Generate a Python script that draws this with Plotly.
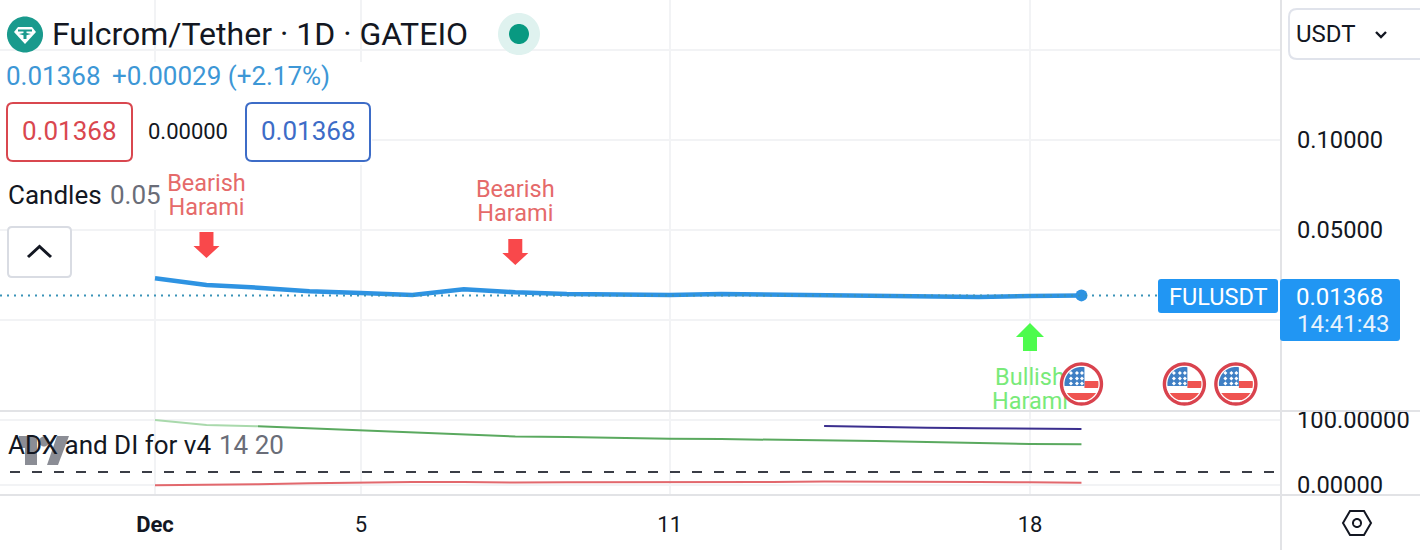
import math
import plotly.graph_objects as go

# ---------- data ----------
days = [1, 2, 3, 4, 5, 6, 7, 8, 9, 10, 11, 12, 13, 14, 15, 16, 17, 18, 19]
close = [0.02317, 0.01944, 0.01794, 0.01594, 0.01500, 0.01389, 0.01706, 0.01539, 0.01444, 0.01406,
         0.01389, 0.01444, 0.01406, 0.01389, 0.01372, 0.01350, 0.01278, 0.01333, 0.01368]
adx_green = [100.0, 92.3, 90.3, 87.2, 83.5, 80.5, 77.4, 74.5, 73.8, 72.3,
             71.2, 70.6, 69.8, 69.2, 67.7, 66.2, 64.6, 63.1, 62.6]
di_red = [-0.5, 0.0, 1.1, 2.6, 3.8, 4.6, 4.6, 3.8, 4.2, 4.2,
          4.2, 4.2, 4.6, 5.4, 5.4, 4.6, 4.6, 4.2, 3.5]
purple_days = [14, 15, 16, 17, 18, 19]
purple = [90.8, 89.2, 88.2, 87.2, 86.5, 86.2]
level_line = [20]
x_tick_vals = [1, 5, 11, 18]
x_tick_text = ["<b>Dec</b>", "5", "11", "18"]
price_ticks = [0, 0.05, 0.10, 0.15]
price_tick_text = ["", "0.05000", "0.10000", ""]
adx_ticks = [0, 100]
adx_tick_text = ["0.00000", "100.00000"]
bearish_days = [2, 8]
bullish_days = [18]
event_days = [19, 21, 22]
pattern_lines = ["Harami"]
last_price = "0.01368"

# ---------- geometry helpers (page pixels) ----------
W, H = 1420, 550
FONT = "Roboto"
INK = "#131722"
GRID = "#f2f3f5"
EDGE = "#e2e3e6"
BLUE = "#2e93e2"


def num(v):
    return f"{v:.2f}"


def poly(points, close_it=True):
    d = "M" + " L".join(f"{num(x)},{num(-y)}" for x, y in points)
    return d + (" Z" if close_it else "")


def page(path, fill=None, line=None, width=0, layer="above"):
    return dict(type="path", layer=layer, path=path,
                xref="paper", xsizemode="pixel", xanchor=0,
                yref="paper", ysizemode="pixel", yanchor=1,
                fillcolor=fill or "rgba(0,0,0,0)",
                line=dict(color=line or "rgba(0,0,0,0)", width=width))


def at_day(day, py, path, fill=None, line=None, width=0):
    return dict(type="path", layer="above", path=path,
                xref="x", xsizemode="pixel", xanchor=day,
                yref="paper", ysizemode="pixel", yanchor=1 - py / H,
                fillcolor=fill or "rgba(0,0,0,0)",
                line=dict(color=line or "rgba(0,0,0,0)", width=width))


def rrect(x0, y0, x1, y1, r):
    y0, y1 = -y0, -y1
    return (f"M{x0+r},{y0} L{x1-r},{y0} Q{x1},{y0} {x1},{y0-r} L{x1},{y1+r} Q{x1},{y1} {x1-r},{y1} "
            f"L{x0+r},{y1} Q{x0},{y1} {x0},{y1+r} L{x0},{y0-r} Q{x0},{y0} {x0+r},{y0} Z")


def circle(cx, cy, r):
    return poly([(cx + r * math.cos(2 * math.pi * i / 60), cy + r * math.sin(2 * math.pi * i / 60))
                 for i in range(60)])


def disc_clip(r, x0, y0, x1, y1):
    pts = []
    for i in range(72):
        a = 2 * math.pi * i / 72
        pts.append((min(max(r * math.cos(a), x0), x1), min(max(r * math.sin(a), y0), y1)))
    return poly(pts)


def diamond(cx, cy, r):
    return poly([(cx, cy - r), (cx + r, cy), (cx, cy + r), (cx - r, cy)])


def text(x, y, s, size, color=INK, anchor="left", yanchor="middle"):
    return dict(xref="paper", yref="paper", x=x / W, y=1 - y / H, text=s, showarrow=False,
                xanchor=anchor, yanchor=yanchor, borderpad=0, borderwidth=0,
                font=dict(family=FONT, size=size, color=color))


def price_at(py):
    return (320 - py) / 1800


# ---------- traces ----------
fig = go.Figure()
line_style = dict(mode="lines", hoverinfo="skip", showlegend=False)
fig.add_trace(go.Scatter(x=days, y=close, xaxis="x2", yaxis="y",
                         line=dict(color=BLUE, width=4.5), **line_style))
fig.add_trace(go.Scatter(x=days[-1:], y=close[-1:], xaxis="x2", yaxis="y", mode="markers",
                         marker=dict(color=BLUE, size=12), hoverinfo="skip", showlegend=False))
fig.add_trace(go.Scatter(x=days[:3], y=adx_green[:3], xaxis="x", yaxis="y2",
                         line=dict(color="#a9d9ac", width=2), **line_style))
fig.add_trace(go.Scatter(x=days[2:], y=adx_green[2:], xaxis="x", yaxis="y2",
                         line=dict(color="#5aa95f", width=2), **line_style))
fig.add_trace(go.Scatter(x=days, y=di_red, xaxis="x", yaxis="y2",
                         line=dict(color="#e2686d", width=2), **line_style))
fig.add_trace(go.Scatter(x=purple_days, y=purple, xaxis="x", yaxis="y2",
                         line=dict(color="#3b2f8e", width=2), **line_style))

# pattern captions are scatter text so that the event flags sit above them
label_style = dict(mode="text", hoverinfo="skip", showlegend=False, cliponaxis=False,
                   xaxis="x2", yaxis="y")
bear_font = dict(family=FONT, size=23.5, color="#e56a6a")
bull_font = dict(family=FONT, size=23.5, color="#79ea79")
fig.add_trace(go.Scatter(x=[bearish_days[0]], y=[price_at(185)], text=["Bearish"], textfont=bear_font, **label_style))
fig.add_trace(go.Scatter(x=[bearish_days[0]], y=[price_at(209)], text=pattern_lines, textfont=bear_font, **label_style))
fig.add_trace(go.Scatter(x=[bearish_days[1]], y=[price_at(191)], text=["Bearish"], textfont=bear_font, **label_style))
fig.add_trace(go.Scatter(x=[bearish_days[1]], y=[price_at(215)], text=pattern_lines, textfont=bear_font, **label_style))
fig.add_trace(go.Scatter(x=bullish_days, y=[price_at(379)], text=["Bullish"], textfont=bull_font, **label_style))
fig.add_trace(go.Scatter(x=bullish_days, y=[price_at(403)], text=pattern_lines, textfont=bull_font, **label_style))

# ---------- shapes ----------
shapes = []
# white plates behind the legend rows
shapes.append(page(rrect(0, 62, 372, 165, 0), fill="#ffffff"))
shapes.append(page(rrect(0, 165, 162, 210, 0), fill="#ffffff"))
# frame lines
shapes.append(dict(type="line", xref="paper", yref="paper", x0=0, x1=1, y0=1 - 411 / H, y1=1 - 411 / H,
                   line=dict(color=EDGE, width=2), layer="above"))
shapes.append(dict(type="line", xref="paper", yref="paper", x0=0, x1=1, y0=1 - 495 / H, y1=1 - 495 / H,
                   line=dict(color=EDGE, width=2), layer="above"))
shapes.append(dict(type="line", xref="paper", yref="paper", x0=1281 / W, x1=1281 / W, y0=0, y1=1,
                   line=dict(color=EDGE, width=2), layer="above"))
# last-price dotted line and level line
shapes.append(dict(type="line", xref="paper", yref="y", x0=0, x1=1158 / W, y0=close[-1], y1=close[-1],
                   line=dict(color="#3a93b8", width=2, dash="2px,5px"), layer="above"))
shapes.append(dict(type="line", xref="paper", yref="y2", x0=10 / W, x1=1278 / W, y0=level_line[0], y1=level_line[0],
                   line=dict(color="#3a3d46", width=2, dash="10px,12px"), layer="above"))

# arrows
down = poly([(-7, -13), (7, -13), (7, 1), (13, 1), (0, 13), (-13, 1), (-7, 1)])
up = poly([(-7, 14), (7, 14), (7, 0), (14, 0), (0, -14), (-14, 0), (-7, 0)])
shapes.append(at_day(bearish_days[0], 245, down, fill="#f9484b"))
shapes.append(at_day(bearish_days[1], 252, down, fill="#f9484b"))
shapes.append(at_day(bullish_days[0], 337, up, fill="#4dfb4d"))

# flags
for d in event_days:
    shapes.append(at_day(d, 384, circle(0, 0, 20), fill="#ffffff"))
    shapes.append(at_day(d, 384, disc_clip(17, -20, 9, 20, 16), fill="#ef5350"))
    shapes.append(at_day(d, 384, disc_clip(17, 3, -3, 20, 4), fill="#ef5350"))
    shapes.append(at_day(d, 384, disc_clip(17, -20, -17, 3, 2), fill="#3f7fc4"))
    stars = " ".join(diamond(sx, sy, 2) for sx in (-10.5, -4.5, 0.5) for sy in (-11, -5.5, -0.5))
    shapes.append(at_day(d, 384, stars, fill="#ffffff"))
    shapes.append(at_day(d, 384, circle(0, 0, 20), line="#d9434e", width=3.4))

# Tether icon
shapes.append(page(circle(25, 34.5, 18), fill="#1a9a8d"))
shapes.append(page(poly([(18, 27), (32, 27), (36, 32), (25, 44), (14, 32)]), fill="#ffffff"))
shapes.append(page(poly([(18, 29.5), (32, 29.5), (32, 31.5), (26.5, 31.5), (26.5, 33), (31, 34), (26.5, 35.2),
                         (26.5, 39), (23.5, 39), (23.5, 35.2), (19, 34), (23.5, 33), (23.5, 31.5), (18, 31.5)]),
                   fill="#1a9a8d"))
# status dot
shapes.append(page(circle(519, 34, 21), fill="#dff2ef"))
shapes.append(page(circle(519, 34, 10), fill="#089981"))
# value boxes
shapes.append(page(rrect(7, 103, 132, 161, 6), fill="#ffffff", line="#d9474f", width=2))
shapes.append(page(rrect(246, 103, 370, 161, 6), fill="#ffffff", line="#3d6cc7", width=2))
# collapse button
shapes.append(page(rrect(8, 227, 71, 277, 4), fill="#ffffff", line="#d9dce3", width=2))
shapes.append(page(poly([(28, 257), (39.5, 246.5), (51, 257)], close_it=False), line=INK, width=3))
# currency select
shapes.append(page(rrect(1289, 9, 1440, 59, 8), fill="#ffffff", line="#e0e3eb", width=2))
shapes.append(page(poly([(1376, 32), (1381, 37), (1386, 32)], close_it=False), line=INK, width=2.4))
# price tags
shapes.append(page(rrect(1158, 279, 1278, 313, 3), fill="#2196f3"))
shapes.append(page(rrect(1280, 279, 1400, 341, 3), fill="#2196f3"))
# settings hexagon
shapes.append(page(poly([(1343, 523), (1350, 511), (1364, 511), (1371, 523), (1364, 535), (1350, 535)]),
                   line=INK, width=2))
shapes.append(page(circle(1357, 523, 4), line=INK, width=2))
# watermark
shapes.append(page(poly([(19, 436), (37, 436), (37, 465), (25, 465), (25, 448), (19, 448)]), fill="#8b8d95"))
shapes.append(page(circle(44, 441.5, 5), fill="#8b8d95"))
shapes.append(page(poly([(57, 436), (69, 436), (58, 465), (47, 465)]), fill="#8b8d95"))

# ---------- text ----------
annotations = [
    text(52, 34, "Fulcrom/Tether · 1D · GATEIO", 32),
    text(6, 76, last_price, 26, "#3d97d6"),
    text(112, 76, "+0.00029 (+2.17%)", 26, "#3d97d6"),
    text(69.5, 131, last_price, 26, "#d9474f", "center"),
    text(188.5, 131, "0.00000", 22, INK, "center"),
    text(308, 131, last_price, 26, "#3d6cc7", "center"),
    text(8, 195, "Candles", 26),
    text(110, 195, "0.05", 26, "#6a6d78"),
    text(8, 445, "ADX and DI for v4", 26),
    text(219, 445, "14 20", 26, "#6a6d78"),
    text(1296, 34, "USDT", 24),
    text(1218.5, 297, "FULUSDT", 23.5, "#ffffff", "center"),
    text(1296, 297, last_price, 24, "#ffffff"),
    text(1297, 324, "14:41:43", 24, "#e8f3fd"),
]

tick_font = dict(family=FONT, size=23.7, color=INK)
fig.update_layout(
    width=W, height=H, autosize=False,
    margin=dict(l=0, r=0, t=0, b=0, autoexpand=False),
    paper_bgcolor="#ffffff", plot_bgcolor="#ffffff",
    showlegend=False, hovermode=False,
    shapes=shapes, annotations=annotations,
    xaxis=dict(domain=[0, 1280 / W], anchor="y2", range=[1 - 155 / 51.47, 1 + 1125 / 51.47],
               tickmode="array", tickvals=x_tick_vals, ticktext=x_tick_text,
               showgrid=True, gridcolor=GRID, gridwidth=2, zeroline=False, ticks="",
               ticklabelstandoff=14, tickfont=dict(family=FONT, size=22, color=INK), fixedrange=True),
    xaxis2=dict(domain=[0, 1280 / W], anchor="y", matches="x", showticklabels=False,
                tickmode="array", tickvals=x_tick_vals,
                showgrid=True, gridcolor=GRID, gridwidth=2, zeroline=False, ticks="", fixedrange=True),
    yaxis=dict(domain=[1 - 411 / H, 1], anchor="x2", side="right", range=[-91 / 1800, 320 / 1800],
               tickmode="array", tickvals=price_ticks, ticktext=price_tick_text,
               showgrid=True, gridcolor=GRID, gridwidth=2, zeroline=False, ticks="",
               ticklabelstandoff=16, tickfont=tick_font, fixedrange=True),
    yaxis2=dict(domain=[1 - 495 / H, 1 - 411 / H], anchor="x", side="right",
                range=[-10 * 100 / 65, 74 * 100 / 65],
                tickmode="array", tickvals=adx_ticks, ticktext=adx_tick_text,
                showgrid=True, gridcolor=GRID, gridwidth=2, zeroline=False, ticks="",
                ticklabelstandoff=16, tickfont=tick_font, fixedrange=True),
)

fig.write_html("out.html", config=dict(displayModeBar=False, staticPlot=False),
               post_script="document.body.style.margin='0';document.body.style.overflow='hidden';"
                           "document.documentElement.style.overflow='hidden';")
